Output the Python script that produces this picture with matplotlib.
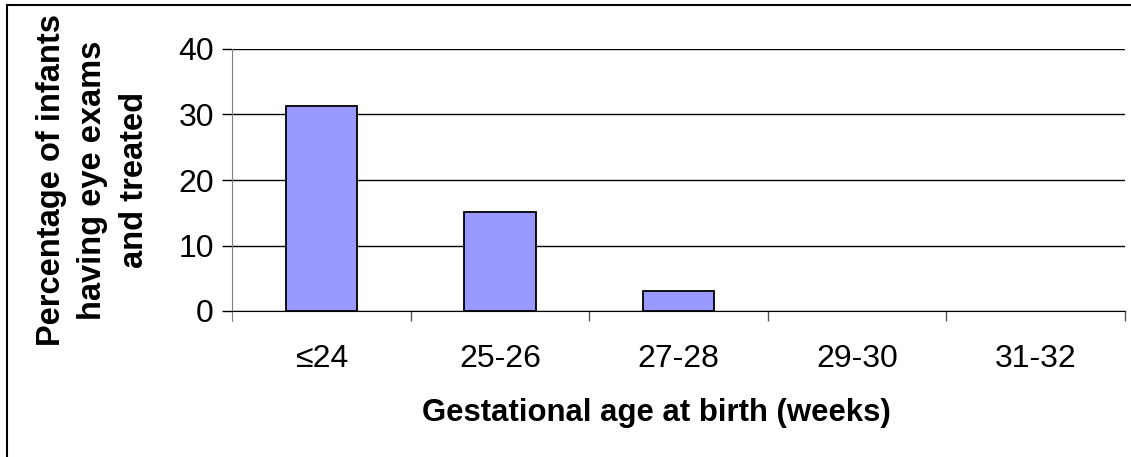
import matplotlib
matplotlib.use("Agg")
import matplotlib.pyplot as plt
from matplotlib.patches import Rectangle

plt.rcParams['font.family'] = ['Liberation Sans', 'DejaVu Sans']

categories = ["≤24", "25-26", "27-28", "29-30", "31-32"]
percent_treated = [31.3, 15.1, 3.1, 0, 0]
y_ticks = [0, 10, 20, 30, 40]

fig = plt.figure(figsize=(11.31, 4.57), dpi=100)
W, H = 1131, 457
ax = fig.add_axes([232 / W, 1 - 311 / H, (1125 - 232) / W, (311 - 49) / H])

x = list(range(len(categories)))
# empty categories get no outline, like the original
edge_widths = [1.3 if v > 0 else 0 for v in percent_treated]
ax.bar(x, percent_treated, width=0.4, color="#9999FF", edgecolor="black",
       linewidth=edge_widths, zorder=3)

ax.set_xlim(-0.5, len(categories) - 0.5)
ax.set_ylim(0, 40)
ax.set_yticks(y_ticks)
ax.set_yticklabels([str(v) for v in y_ticks], fontsize=23)
ax.yaxis.grid(True, color="black", linewidth=1, zorder=0)
ax.set_axisbelow(True)

ax.set_xticks([i - 0.5 for i in range(1, len(categories) + 1)])
ax.set_xticklabels([])
ax.set_xticks(x, minor=True)
ax.set_xticklabels(categories, minor=True, fontsize=23)
ax.tick_params(axis="x", which="minor", length=0, pad=24)
ax.tick_params(axis="x", which="major", length=7, width=1, color="#555555")
ax.tick_params(axis="y", length=7, width=1, color="black", pad=6)

for side in ["top", "right"]:
    ax.spines[side].set_visible(False)
ax.spines["left"].set_color("#808080")
ax.spines["left"].set_bounds(-1.6, 40)
ax.spines["bottom"].set_color("black")

fig.text(93 / W, 1 - 180 / H,
         "Percentage of infants\nhaving eye exams\nand treated",
         rotation=90, ha="center", va="center", fontsize=23.5,
         fontweight="bold", linespacing=1.45)
fig.text(656 / W, 1 - 413 / H, "Gestational age at birth (weeks)",
         ha="center", va="center", fontsize=22.4, fontweight="bold")

fig.patches.append(Rectangle((7 / W, -0.1), 1.2, 1 - 5 / H + 0.1,
                             transform=fig.transFigure, fill=False,
                             edgecolor="black", linewidth=1.5))

fig.savefig("out.png", dpi=100)
